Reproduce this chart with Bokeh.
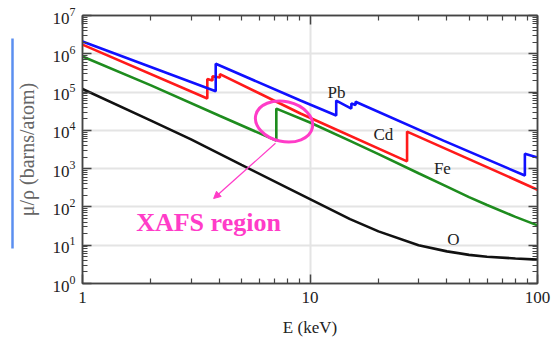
from bokeh.plotting import figure
from bokeh.models import (LogAxis, Label, Arrow, NormalHead,
                          FixedTicker, BasicTickFormatter)
from bokeh.embed import file_html
from bokeh.resources import INLINE

# ---------------- data ----------------
pb_E  = [1.0, 3.851, 3.851, 9.08, 13.04, 13.04, 15.2, 15.2, 15.86, 15.86, 38.6, 88.0, 88.0, 100.0]
pb_mu = [2.09e6, 1.05e5, 5.5e5, 6.0e4, 2.45e4, 6.0e4, 3.7e4, 5.0e4, 4.6e4, 5.6e4, 5.4e3, 660, 2450, 1950]

cd_E  = [1.0, 3.537, 3.537, 3.727, 3.727, 4.018, 4.018, 9.08, 26.71, 26.71, 100.0]
cd_mu = [1.74e6, 6.8e4, 2.2e5, 2.0e5, 2.6e5, 2.4e5, 2.95e5, 2.75e4, 1.55e3, 9.3e3, 282]

fe_E  = [1.0, 2.0, 4.0, 7.112, 7.112, 10.0, 15.0, 20.0, 30.0, 40.0, 50.0, 60.0, 80.0, 100.0]
fe_mu = [8.5e5, 1.5e5, 2.4e4, 5.4e3, 3.7e4, 1.6e4, 5.3e3, 2.4e3, 760, 340, 180, 112, 55, 33]

o_E  = [1.0, 2.0, 3.0, 5.0, 8.0, 10.0, 15.0, 20.0, 30.0, 40.0, 50.0, 60.0, 80.0, 100.0]
o_mu = [1.2e5, 1.8e4, 5.8e3, 1.25e3, 310, 160, 48, 23, 10, 6.9, 5.6, 5.0, 4.5, 4.2]

series_names  = ["Pb", "Cd", "Fe", "O"]
series_colors = ["#1010ff", "#ff1a1a", "#1e8c1e", "#111111"]
label_pos = {"Pb": (13.08, 9.7e4), "Cd": (21.0, 7.8e3), "Fe": (38.2, 1.0e3), "O": (42.7, 14.1)}

x_major = [1, 10, 100]
y_major = [1, 10, 100, 1e3, 1e4, 1e5, 1e6, 1e7]

# annotation positions (data coordinates)
ell_x, ell_y = 7.69, 1.7e4
arrow_start = (7.05, 4.6e3)
arrow_end = (3.77, 166)
xafs_pos = (3.58, 39)
box_bounds = (8.2, 2.5e6)      # vertical extent of the blue frame at the left edge
mag = "#ff3cc8"
serif = "Liberation Serif"

# ---------------- figure ----------------
p = figure(width=553, height=341, x_axis_type="log", y_axis_type="log",
           x_range=(1, 100), y_range=(1, 1e7),
           output_backend="svg", toolbar_location=None,
           min_border_left=82, min_border_right=16, min_border_top=15, min_border_bottom=58)
p.outline_line_color = "#444444"
p.outline_line_width = 1.5
p.background_fill_color = "white"
p.border_fill_color = "white"

x_minor = [m * d for d in [1, 10] for m in range(2, 10)]
y_minor = [m * d for d in [1, 10, 100, 1e3, 1e4, 1e5, 1e6] for m in range(2, 10)]
xt = FixedTicker(ticks=x_major, minor_ticks=x_minor)
yt = FixedTicker(ticks=y_major, minor_ticks=y_minor)

p.xaxis.ticker = xt
p.yaxis.ticker = yt
p.xaxis.formatter = BasicTickFormatter()

def style_axis(ax, labels=True):
    ax.axis_line_color = "#444444"
    ax.axis_line_width = 1.5
    ax.major_tick_line_color = "#444444"
    ax.minor_tick_line_color = "#444444"
    ax.major_tick_line_width = 1.5
    ax.minor_tick_line_width = 1.2
    ax.major_tick_in = 9
    ax.major_tick_out = 0
    ax.minor_tick_in = 5
    ax.minor_tick_out = 0
    ax.major_label_text_font = serif
    ax.major_label_text_font_size = "17px"
    ax.major_label_text_color = "#222222"
    if not labels:
        ax.major_label_text_font_size = "1px"
        ax.major_label_text_alpha = 0
        ax.major_label_standoff = 0

for ax in p.xaxis:
    style_axis(ax)
    ax.major_label_standoff = 8
    ax.axis_label = "E (keV)"
    ax.axis_label_text_font = serif
    ax.axis_label_text_font_style = "normal"
    ax.axis_label_text_font_size = "17px"
    ax.axis_label_text_color = "#222222"
    ax.axis_label_standoff = 12
for ax in p.yaxis:
    style_axis(ax)
    ax.major_label_standoff = 7
    ax.axis_label = "μ/ρ (barns/atom)"
    ax.axis_label_text_font = serif
    ax.axis_label_text_font_style = "normal"
    ax.axis_label_text_font_size = "20px"
    ax.axis_label_text_color = "#666666"
    ax.axis_label_standoff = 12

top = LogAxis(ticker=xt)
style_axis(top, labels=False)
p.add_layout(top, "above")
right = LogAxis(ticker=yt)
style_axis(right, labels=False)
p.add_layout(right, "right")

# blue frame edge at the far left, drawn as a bounded bare axis line
box_axis = LogAxis(ticker=FixedTicker(ticks=[], minor_ticks=[]), bounds=box_bounds)
box_axis.axis_line_color = "#5b8ff0"
box_axis.axis_line_width = 2.5
box_axis.major_tick_in = 0
box_axis.major_tick_out = 0
box_axis.minor_tick_in = 0
box_axis.minor_tick_out = 0
box_axis.major_label_text_font_size = "1px"
box_axis.major_label_text_alpha = 0
box_axis.major_label_standoff = 0
p.add_layout(box_axis, "left")

p.xgrid.grid_line_color = "#e4e4e4"
p.xgrid.grid_line_width = 2
p.ygrid.grid_line_color = "#e4e4e4"
p.ygrid.grid_line_width = 2

# ---------------- lines ----------------
data = {"Pb": (pb_E, pb_mu), "Cd": (cd_E, cd_mu), "Fe": (fe_E, fe_mu), "O": (o_E, o_mu)}
for name, col in zip(reversed(series_names), reversed(series_colors)):
    e, mu = data[name]
    p.line(e, mu, line_color=col, line_width=2.6)

for name in series_names:
    lx, ly = label_pos[name]
    p.add_layout(Label(x=lx, y=ly, text=name, text_font=serif, text_font_size="17px",
                       text_color="#222222", text_align="center", text_baseline="middle"))

# ---------------- XAFS annotation ----------------
p.ellipse(x=[ell_x], y=[ell_y], width=58, height=40, angle=-0.22,
          width_units="screen", height_units="screen",
          fill_alpha=0, line_color=mag, line_width=3)
p.add_layout(Arrow(end=NormalHead(size=7, fill_color=mag, line_color=mag, line_width=1),
                   x_start=arrow_start[0], y_start=arrow_start[1],
                   x_end=arrow_end[0], y_end=arrow_end[1],
                   line_color=mag, line_width=1.2))
p.add_layout(Label(x=xafs_pos[0], y=xafs_pos[1], text="XAFS region", text_font=serif,
                   text_font_style="bold", text_font_size="26px", text_color=mag,
                   text_align="center", text_baseline="middle"))

open("out.html", "w").write(file_html(p, INLINE))
